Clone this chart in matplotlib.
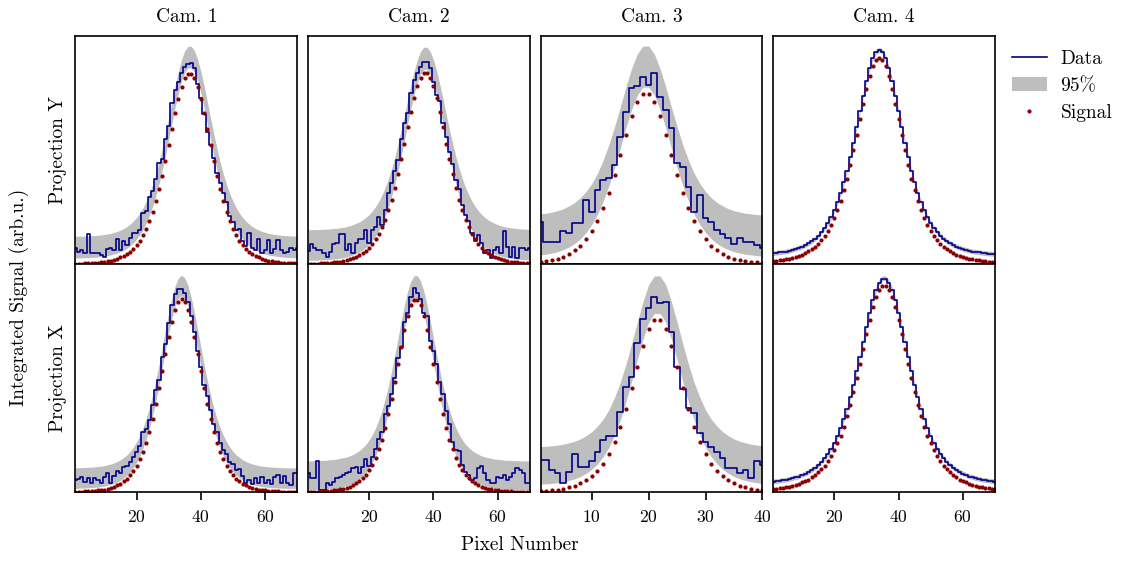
import matplotlib
matplotlib.use("Agg")
import matplotlib.pyplot as plt

# pixel index along each camera line
pixels_70 = list(range(1, 71))
pixels_40 = list(range(1, 41))

# ---- Cam. 1, projection Y ----
cam1_y_data = [6.9, 5.4, 6.1, 5.0, 13.2, 5.0, 5.0, 5.0, 4.0, 3.2,
               6.5, 6.9, 6.1, 10.8, 6.1, 10.2, 8.3, 11.3, 13.5, 13.8,
               15.1, 22.4, 23.1, 29.5, 32.0, 37.5, 44.5, 46.0, 55.0, 60.5,
               70.5, 76.5, 80.0, 84.0, 86.5, 87.7, 88.0, 86.0, 79.0, 73.0,
               66.0, 58.0, 52.0, 46.5, 40.0, 35.5, 31.0, 27.0, 21.0, 18.5,
               15.0, 15.5, 10.0, 8.0, 13.5, 6.9, 6.1, 10.8, 5.0, 6.1,
               10.5, 4.7, 6.5, 10.5, 6.1, 4.7, 5.4, 6.9, 6.1, 6.9]
cam1_y_signal = [0.1, 0.2, 0.2, 0.3, 0.3, 0.4, 0.5, 0.6, 0.8, 1.0,
                 1.2, 1.5, 1.9, 2.3, 2.9, 3.6, 4.4, 5.5, 6.8, 8.4,
                 10.3, 12.7, 15.5, 18.9, 22.8, 27.5, 32.7, 38.7, 45.2, 52.2,
                 59.2, 66.2, 72.5, 77.8, 81.6, 83.5, 83.5, 81.6, 77.8, 72.5,
                 66.2, 59.2, 52.2, 45.2, 38.7, 32.7, 27.5, 22.8, 18.9, 15.5,
                 12.7, 10.3, 8.4, 6.8, 5.5, 4.4, 3.6, 2.9, 2.3, 1.9,
                 1.5, 1.2, 1.0, 0.8, 0.6, 0.5, 0.4, 0.3, 0.3, 0.2]
cam1_y_lo = [2.6, 2.7, 2.7, 2.8, 2.8, 2.9, 3.0, 3.1, 3.3, 3.5,
             3.7, 4.0, 4.4, 4.8, 5.4, 6.1, 6.9, 8.0, 9.3, 10.9,
             12.8, 15.2, 18.0, 21.4, 25.3, 30.0, 35.2, 41.2, 47.7, 54.7,
             61.7, 68.7, 75.0, 80.3, 84.1, 86.0, 86.0, 84.1, 80.3, 75.0,
             68.7, 61.7, 54.7, 47.7, 41.2, 35.2, 30.0, 25.3, 21.4, 18.0,
             15.2, 12.8, 10.9, 9.3, 8.0, 6.9, 6.1, 5.4, 4.8, 4.4,
             4.0, 3.7, 3.5, 3.3, 3.1, 3.0, 2.9, 2.8, 2.8, 2.7]
cam1_y_hi = [12.1, 12.2, 12.2, 12.3, 12.3, 12.4, 12.5, 12.6, 12.8, 13.0,
             13.2, 13.5, 13.9, 14.3, 14.9, 15.6, 16.4, 17.5, 18.8, 20.4,
             22.3, 24.7, 27.5, 30.9, 34.8, 39.5, 44.7, 50.7, 57.2, 64.2,
             71.2, 78.2, 84.5, 89.8, 93.6, 95.5, 95.5, 93.6, 89.8, 84.5,
             78.2, 71.2, 64.2, 57.2, 50.7, 44.7, 39.5, 34.8, 30.9, 27.5,
             24.7, 22.3, 20.4, 18.8, 17.5, 16.4, 15.6, 14.9, 14.3, 13.9,
             13.5, 13.2, 13.0, 12.8, 12.6, 12.5, 12.4, 12.3, 12.3, 12.2]

# ---- Cam. 2, projection Y ----
cam2_y_data = [5.9, 8.6, 6.9, 6.1, 6.1, 5.0, 3.2, 5.4, 8.6, 9.4,
               13.2, 13.2, 6.1, 8.6, 4.7, 9.4, 11.0, 11.0, 14.9, 9.4,
               14.9, 16.4, 20.8, 17.0, 23.7, 31.0, 35.7, 41.0, 45.6, 55.0,
               62.0, 66.1, 75.0, 80.7, 84.0, 86.6, 88.4, 88.4, 86.0, 80.0,
               74.0, 71.5, 62.0, 55.5, 49.0, 44.0, 37.0, 33.0, 26.0, 21.5,
               19.0, 13.5, 10.0, 12.7, 9.4, 4.7, 6.1, 2.5, 6.1, 7.6,
               4.7, 14.5, 7.6, 3.2, 7.6, 2.5, 6.9, 6.9, 6.1, 6.9]
cam2_y_signal = [0.1, 0.2, 0.2, 0.2, 0.3, 0.4, 0.4, 0.5, 0.7, 0.8,
                 1.0, 1.3, 1.6, 2.0, 2.5, 3.1, 3.8, 4.7, 5.8, 7.1,
                 8.8, 10.8, 13.2, 16.1, 19.5, 23.5, 28.2, 33.5, 39.5, 46.0,
                 52.8, 59.9, 66.7, 72.9, 78.1, 81.8, 83.8, 83.8, 81.8, 78.1,
                 72.9, 66.7, 59.9, 52.8, 46.0, 39.5, 33.5, 28.2, 23.5, 19.5,
                 16.1, 13.2, 10.8, 8.8, 7.1, 5.8, 4.7, 3.8, 3.1, 2.5,
                 2.0, 1.6, 1.3, 1.0, 0.8, 0.7, 0.5, 0.4, 0.4, 0.3]
cam2_y_lo = [1.6, 1.7, 1.7, 1.7, 1.8, 1.9, 1.9, 2.0, 2.2, 2.3,
             2.5, 2.8, 3.1, 3.5, 4.0, 4.6, 5.3, 6.2, 7.3, 8.6,
             10.3, 12.3, 14.7, 17.6, 21.0, 25.0, 29.7, 35.0, 41.0, 47.5,
             54.3, 61.4, 68.2, 74.4, 79.6, 83.3, 85.3, 85.3, 83.3, 79.6,
             74.4, 68.2, 61.4, 54.3, 47.5, 41.0, 35.0, 29.7, 25.0, 21.0,
             17.6, 14.7, 12.3, 10.3, 8.6, 7.3, 6.2, 5.3, 4.6, 4.0,
             3.5, 3.1, 2.8, 2.5, 2.3, 2.2, 2.0, 1.9, 1.9, 1.8]
cam2_y_hi = [15.0, 15.1, 15.1, 15.1, 15.2, 15.3, 15.3, 15.4, 15.6, 15.7,
             15.9, 16.1, 16.4, 16.8, 17.3, 17.9, 18.5, 19.4, 20.5, 21.7,
             23.3, 25.2, 27.5, 30.3, 33.6, 37.4, 41.9, 47.0, 52.7, 58.9,
             65.4, 72.2, 78.7, 84.7, 89.6, 93.2, 95.1, 95.1, 93.2, 89.6,
             84.7, 78.7, 72.2, 65.4, 58.9, 52.7, 47.0, 41.9, 37.4, 33.6,
             30.3, 27.5, 25.2, 23.3, 21.7, 20.5, 19.4, 18.5, 17.9, 17.3,
             16.8, 16.4, 16.1, 15.9, 15.7, 15.6, 15.4, 15.3, 15.3, 15.2]

# ---- Cam. 3, projection Y ----
cam3_y_data = [18.6, 9.6, 9.6, 9.6, 14.6, 13.7, 18.2, 18.2, 28.1, 22.9,
               32.5, 36.8, 37.6, 43.4, 55.9, 66.8, 77.0, 78.1, 82.2, 78.5,
               83.6, 73.4, 67.5, 59.5, 44.2, 42.7, 34.0, 23.0, 30.3, 20.0,
               18.6, 14.9, 13.2, 11.3, 9.0, 11.6, 9.5, 9.8, 8.3, 6.9]
cam3_y_signal = [1.0, 1.3, 1.8, 2.4, 3.3, 4.5, 6.0, 8.1, 10.8, 14.3,
                 18.8, 24.5, 31.3, 39.2, 47.8, 56.7, 64.8, 71.1, 74.6, 74.6,
                 71.1, 64.8, 56.7, 47.8, 39.2, 31.3, 24.5, 18.8, 14.3, 10.8,
                 8.1, 6.0, 4.5, 3.3, 2.4, 1.8, 1.3, 1.0, 0.7, 0.5]
cam3_y_lo = [4.0, 4.3, 4.8, 5.4, 6.3, 7.5, 9.0, 11.1, 13.8, 17.3,
             21.8, 27.5, 34.3, 42.2, 50.8, 59.7, 67.8, 74.1, 77.6, 77.6,
             74.1, 67.8, 59.7, 50.8, 42.2, 34.3, 27.5, 21.8, 17.3, 13.8,
             11.1, 9.0, 7.5, 6.3, 5.4, 4.8, 4.3, 4.0, 3.7, 3.5]
cam3_y_hi = [22.0, 22.3, 22.8, 23.4, 24.3, 25.5, 27.0, 29.1, 31.8, 35.3,
             39.8, 45.5, 52.3, 60.2, 68.8, 77.7, 85.8, 92.1, 95.6, 95.6,
             92.1, 85.8, 77.7, 68.8, 60.2, 52.3, 45.5, 39.8, 35.3, 31.8,
             29.1, 27.0, 25.5, 24.3, 23.4, 22.8, 22.3, 22.0, 21.7, 21.5]

# ---- Cam. 4, projection Y ----
cam4_y_data = [4.7, 4.9, 5.1, 5.3, 5.5, 5.8, 6.2, 6.6, 7.1, 7.6,
               8.3, 9.1, 10.0, 11.1, 12.4, 14.0, 15.8, 18.0, 20.5, 23.5,
               27.1, 31.1, 35.8, 41.0, 46.9, 53.3, 60.1, 67.0, 73.9, 80.4,
               85.9, 90.3, 93.1, 94.0, 93.1, 90.3, 85.9, 80.4, 73.9, 67.0,
               60.1, 53.3, 46.9, 41.0, 35.8, 31.1, 27.1, 23.5, 20.5, 18.0,
               15.8, 14.0, 12.4, 11.1, 10.0, 9.1, 8.3, 7.6, 7.1, 6.6,
               6.2, 5.8, 5.5, 5.3, 5.1, 4.9, 4.7, 4.6, 4.5, 4.3]
cam4_y_signal = [1.2, 1.4, 1.6, 1.8, 2.0, 2.3, 2.7, 3.1, 3.6, 4.1,
                 4.8, 5.6, 6.5, 7.6, 8.9, 10.5, 12.3, 14.5, 17.0, 20.0,
                 23.6, 27.6, 32.3, 37.5, 43.4, 49.8, 56.6, 63.5, 70.4, 76.9,
                 82.4, 86.8, 89.6, 90.5, 89.6, 86.8, 82.4, 76.9, 70.4, 63.5,
                 56.6, 49.8, 43.4, 37.5, 32.3, 27.6, 23.6, 20.0, 17.0, 14.5,
                 12.3, 10.5, 8.9, 7.6, 6.5, 5.6, 4.8, 4.1, 3.6, 3.1,
                 2.7, 2.3, 2.0, 1.8, 1.6, 1.4, 1.2, 1.1, 1.0, 0.8]
cam4_y_lo = [3.7, 3.9, 4.1, 4.3, 4.5, 4.8, 5.2, 5.6, 6.1, 6.6,
             7.3, 8.1, 9.0, 10.1, 11.4, 13.0, 14.8, 17.0, 19.5, 22.5,
             26.1, 30.1, 34.8, 40.0, 45.9, 52.3, 59.1, 66.0, 72.9, 79.4,
             84.9, 89.3, 92.1, 93.0, 92.1, 89.3, 84.9, 79.4, 72.9, 66.0,
             59.1, 52.3, 45.9, 40.0, 34.8, 30.1, 26.1, 22.5, 19.5, 17.0,
             14.8, 13.0, 11.4, 10.1, 9.0, 8.1, 7.3, 6.6, 6.1, 5.6,
             5.2, 4.8, 4.5, 4.3, 4.1, 3.9, 3.7, 3.6, 3.5, 3.3]
cam4_y_hi = [5.8, 6.0, 6.2, 6.4, 6.6, 6.9, 7.3, 7.7, 8.2, 8.7,
             9.4, 10.2, 11.1, 12.2, 13.5, 15.1, 16.9, 19.1, 21.6, 24.6,
             28.2, 32.2, 36.9, 42.1, 48.0, 54.4, 61.2, 68.1, 75.0, 81.5,
             87.0, 91.4, 94.2, 95.1, 94.2, 91.4, 87.0, 81.5, 75.0, 68.1,
             61.2, 54.4, 48.0, 42.1, 36.9, 32.2, 28.2, 24.6, 21.6, 19.1,
             16.9, 15.1, 13.5, 12.2, 11.1, 10.2, 9.4, 8.7, 8.2, 7.7,
             7.3, 6.9, 6.6, 6.4, 6.2, 6.0, 5.8, 5.7, 5.6, 5.4]

# ---- Cam. 1, projection X ----
cam1_x_data = [5.3, 5.6, 6.7, 4.6, 6.0, 4.1, 6.0, 5.3, 4.1, 6.7,
               8.2, 4.1, 7.0, 9.4, 8.2, 11.1, 11.4, 13.0, 15.5, 17.5,
               20.0, 26.5, 27.5, 31.5, 38.0, 44.7, 49.0, 59.4, 65.0, 74.0,
               82.0, 87.0, 88.9, 88.9, 87.1, 83.5, 77.0, 70.0, 62.0, 55.0,
               47.0, 42.0, 36.0, 30.0, 26.5, 21.5, 18.5, 16.5, 13.0, 12.5,
               9.5, 10.0, 7.0, 3.8, 5.3, 3.5, 6.0, 4.1, 6.7, 4.1,
               5.3, 3.5, 6.7, 7.5, 4.1, 7.0, 3.8, 3.1, 8.2, 8.5]
cam1_x_signal = [0.1, 0.2, 0.2, 0.3, 0.4, 0.4, 0.6, 0.7, 0.9, 1.1,
                 1.5, 1.8, 2.3, 2.9, 3.7, 4.7, 5.8, 7.3, 9.2, 11.5,
                 14.3, 17.7, 21.7, 26.5, 32.1, 38.5, 45.5, 53.1, 60.7, 68.2,
                 74.8, 80.0, 83.4, 84.6, 83.4, 80.0, 74.8, 68.2, 60.7, 53.1,
                 45.5, 38.5, 32.1, 26.5, 21.7, 17.7, 14.3, 11.5, 9.2, 7.3,
                 5.8, 4.7, 3.7, 2.9, 2.3, 1.8, 1.5, 1.1, 0.9, 0.7,
                 0.6, 0.4, 0.4, 0.3, 0.2, 0.2, 0.1, 0.1, 0.1, 0.1]
cam1_x_lo = [1.6, 1.7, 1.7, 1.8, 1.9, 1.9, 2.1, 2.2, 2.4, 2.6,
             3.0, 3.3, 3.8, 4.4, 5.2, 6.2, 7.3, 8.8, 10.7, 13.0,
             15.8, 19.2, 23.2, 28.0, 33.6, 40.0, 47.0, 54.6, 62.2, 69.7,
             76.3, 81.5, 84.9, 86.1, 84.9, 81.5, 76.3, 69.7, 62.2, 54.6,
             47.0, 40.0, 33.6, 28.0, 23.2, 19.2, 15.8, 13.0, 10.7, 8.8,
             7.3, 6.2, 5.2, 4.4, 3.8, 3.3, 3.0, 2.6, 2.4, 2.2,
             2.1, 1.9, 1.9, 1.8, 1.7, 1.7, 1.6, 1.6, 1.6, 1.6]
cam1_x_hi = [10.6, 10.7, 10.7, 10.8, 10.9, 10.9, 11.1, 11.2, 11.4, 11.6,
             12.0, 12.3, 12.8, 13.4, 14.2, 15.2, 16.3, 17.8, 19.7, 22.0,
             24.8, 28.2, 32.2, 37.0, 42.6, 49.0, 56.0, 63.6, 71.2, 78.7,
             85.3, 90.5, 93.9, 95.1, 93.9, 90.5, 85.3, 78.7, 71.2, 63.6,
             56.0, 49.0, 42.6, 37.0, 32.2, 28.2, 24.8, 22.0, 19.7, 17.8,
             16.3, 15.2, 14.2, 13.4, 12.8, 12.3, 12.0, 11.6, 11.4, 11.2,
             11.1, 10.9, 10.9, 10.8, 10.7, 10.7, 10.6, 10.6, 10.6, 10.6]

# ---- Cam. 2, projection X ----
cam2_x_data = [8.2, 6.0, 6.0, 13.6, 0.9, 0.9, 4.1, 3.0, 4.6, 6.0,
               6.7, 7.5, 8.2, 9.0, 10.4, 10.8, 8.2, 11.1, 14.3, 11.4,
               15.2, 18.9, 23.3, 26.2, 34.2, 37.9, 42.9, 50.1, 58.6, 63.7,
               74.7, 78.4, 85.4, 89.4, 87.5, 84.6, 78.4, 77.2, 66.1, 62.0,
               56.1, 48.1, 43.0, 35.7, 29.8, 22.0, 18.5, 18.1, 11.8, 8.9,
               7.5, 5.3, 6.0, 10.4, 11.4, 8.2, 5.3, 4.1, 4.1, 6.7,
               6.0, 7.5, 5.3, 6.7, 8.2, 10.4, 9.7, 8.2, 4.1, 4.1]
cam2_x_signal = [0.1, 0.1, 0.2, 0.2, 0.3, 0.3, 0.4, 0.6, 0.7, 0.9,
                 1.2, 1.5, 1.9, 2.4, 3.0, 3.8, 4.8, 6.1, 7.6, 9.6,
                 12.0, 15.0, 18.7, 23.0, 28.2, 34.1, 40.9, 48.3, 56.0, 63.8,
                 71.1, 77.3, 81.9, 84.3, 84.3, 81.9, 77.3, 71.1, 63.8, 56.0,
                 48.3, 40.9, 34.1, 28.2, 23.0, 18.7, 15.0, 12.0, 9.6, 7.6,
                 6.1, 4.8, 3.8, 3.0, 2.4, 1.9, 1.5, 1.2, 0.9, 0.7,
                 0.6, 0.4, 0.3, 0.3, 0.2, 0.2, 0.1, 0.1, 0.1, 0.1]
cam2_x_lo = [1.0, 1.0, 1.1, 1.1, 1.2, 1.2, 1.3, 1.5, 1.6, 1.8,
             2.1, 2.4, 2.8, 3.3, 3.9, 4.7, 5.7, 7.0, 8.5, 10.5,
             12.9, 15.9, 19.6, 23.9, 29.1, 35.0, 41.8, 49.2, 56.9, 64.7,
             72.0, 78.2, 82.8, 85.2, 85.2, 82.8, 78.2, 72.0, 64.7, 56.9,
             49.2, 41.8, 35.0, 29.1, 23.9, 19.6, 15.9, 12.9, 10.5, 8.5,
             7.0, 5.7, 4.7, 3.9, 3.3, 2.8, 2.4, 2.1, 1.8, 1.6,
             1.5, 1.3, 1.2, 1.2, 1.1, 1.1, 1.0, 1.0, 1.0, 1.0]
cam2_x_hi = [13.7, 13.7, 13.8, 13.8, 13.9, 13.9, 14.0, 14.2, 14.3, 14.5,
             14.8, 15.1, 15.4, 15.9, 16.5, 17.3, 18.2, 19.5, 20.9, 22.9,
             25.2, 28.1, 31.6, 35.8, 40.8, 46.5, 53.1, 60.2, 67.6, 75.2,
             82.2, 88.2, 92.6, 94.9, 94.9, 92.6, 88.2, 82.2, 75.2, 67.6,
             60.2, 53.1, 46.5, 40.8, 35.8, 31.6, 28.1, 25.2, 22.9, 20.9,
             19.5, 18.2, 17.3, 16.5, 15.9, 15.4, 15.1, 14.8, 14.5, 14.3,
             14.2, 14.0, 13.9, 13.9, 13.8, 13.8, 13.7, 13.7, 13.7, 13.7]

# ---- Cam. 3, projection X ----
cam3_x_data = [14.0, 14.0, 9.6, 8.2, 4.1, 8.9, 16.8, 10.9, 10.9, 13.6,
               17.7, 22.8, 24.6, 24.7, 35.2, 46.2, 50.6, 65.5, 76.1, 80.8,
               85.6, 82.7, 83.2, 70.0, 55.0, 45.0, 36.8, 34.5, 25.8, 22.1,
               19.9, 17.7, 14.8, 10.4, 10.4, 8.2, 9.6, 6.0, 13.6, 11.9]
cam3_x_signal = [0.5, 0.6, 0.8, 1.1, 1.5, 2.1, 2.8, 3.8, 5.2, 7.0,
                 9.4, 12.5, 16.5, 22.0, 28.5, 36.5, 45.5, 55.0, 64.0, 71.5,
                 75.3, 75.3, 71.5, 64.0, 55.0, 45.5, 36.5, 28.5, 22.0, 16.5,
                 12.5, 9.4, 7.0, 5.2, 3.8, 2.8, 2.1, 1.5, 1.1, 0.8]
cam3_x_lo = [3.5, 3.6, 3.8, 4.1, 4.5, 5.1, 5.8, 6.8, 8.2, 10.0,
             12.4, 15.5, 19.5, 25.0, 31.5, 39.5, 48.5, 58.0, 67.0, 74.5,
             78.3, 78.3, 74.5, 67.0, 58.0, 48.5, 39.5, 31.5, 25.0, 19.5,
             15.5, 12.4, 10.0, 8.2, 6.8, 5.8, 5.1, 4.5, 4.1, 3.8]
cam3_x_hi = [20.0, 20.1, 20.3, 20.6, 21.0, 21.6, 22.3, 23.3, 24.7, 26.5,
             28.9, 32.0, 36.0, 41.5, 48.0, 56.0, 65.0, 74.5, 83.5, 91.0,
             94.8, 94.8, 91.0, 83.5, 74.5, 65.0, 56.0, 48.0, 41.5, 36.0,
             32.0, 28.9, 26.5, 24.7, 23.3, 22.3, 21.6, 21.0, 20.6, 20.3]

# ---- Cam. 4, projection X ----
cam4_x_data = [4.5, 4.7, 4.9, 5.1, 5.3, 5.6, 6.0, 6.4, 6.8, 7.4,
               8.0, 8.7, 9.6, 10.6, 11.8, 13.1, 14.8, 16.7, 18.9, 21.5,
               24.5, 27.9, 31.9, 36.4, 41.5, 47.0, 53.1, 59.4, 66.0, 72.5,
               78.7, 84.2, 88.7, 91.9, 93.6, 93.6, 91.9, 88.7, 84.2, 78.7,
               72.5, 66.0, 59.4, 53.1, 47.0, 41.5, 36.4, 31.9, 27.9, 24.5,
               21.5, 18.9, 16.7, 14.8, 13.1, 11.8, 10.6, 9.6, 8.7, 8.0,
               7.4, 6.8, 6.4, 6.0, 5.6, 5.3, 5.1, 4.9, 4.7, 4.5]
cam4_x_signal = [1.3, 1.5, 1.7, 1.9, 2.1, 2.4, 2.8, 3.2, 3.6, 4.2,
                 4.8, 5.5, 6.4, 7.4, 8.6, 9.9, 11.6, 13.5, 15.7, 18.3,
                 21.3, 24.7, 28.7, 33.2, 38.3, 43.8, 49.9, 56.2, 62.8, 69.3,
                 75.5, 81.0, 85.5, 88.7, 90.4, 90.4, 88.7, 85.5, 81.0, 75.5,
                 69.3, 62.8, 56.2, 49.9, 43.8, 38.3, 33.2, 28.7, 24.7, 21.3,
                 18.3, 15.7, 13.5, 11.6, 9.9, 8.6, 7.4, 6.4, 5.5, 4.8,
                 4.2, 3.6, 3.2, 2.8, 2.4, 2.1, 1.9, 1.7, 1.5, 1.3]
cam4_x_lo = [3.6, 3.8, 4.0, 4.2, 4.4, 4.7, 5.1, 5.5, 5.9, 6.5,
             7.1, 7.8, 8.7, 9.7, 10.9, 12.2, 13.9, 15.8, 18.0, 20.6,
             23.6, 27.0, 31.0, 35.5, 40.6, 46.1, 52.2, 58.5, 65.1, 71.6,
             77.8, 83.3, 87.8, 91.0, 92.7, 92.7, 91.0, 87.8, 83.3, 77.8,
             71.6, 65.1, 58.5, 52.2, 46.1, 40.6, 35.5, 31.0, 27.0, 23.6,
             20.6, 18.0, 15.8, 13.9, 12.2, 10.9, 9.7, 8.7, 7.8, 7.1,
             6.5, 5.9, 5.5, 5.1, 4.7, 4.4, 4.2, 4.0, 3.8, 3.6]
cam4_x_hi = [5.7, 5.9, 6.1, 6.3, 6.5, 6.8, 7.2, 7.6, 8.0, 8.6,
             9.2, 9.9, 10.8, 11.8, 13.0, 14.3, 16.0, 17.9, 20.1, 22.7,
             25.7, 29.1, 33.1, 37.6, 42.7, 48.2, 54.3, 60.6, 67.2, 73.7,
             79.9, 85.4, 89.9, 93.1, 94.8, 94.8, 93.1, 89.9, 85.4, 79.9,
             73.7, 67.2, 60.6, 54.3, 48.2, 42.7, 37.6, 33.1, 29.1, 25.7,
             22.7, 20.1, 17.9, 16.0, 14.3, 13.0, 11.8, 10.8, 9.9, 9.2,
             8.6, 8.0, 7.6, 7.2, 6.8, 6.5, 6.3, 6.1, 5.9, 5.7]

cam_titles = ["Cam. 1", "Cam. 2", "Cam. 3", "Cam. 4"]
row_labels = ["Projection Y", "Projection X"]
tick_sets = [[20, 40, 60], [20, 40, 60], [10, 20, 30, 40], [20, 40, 60]]

# (row, column, pixels, data, signal, band low, band high)
panels = [
    (0, 0, pixels_70, cam1_y_data, cam1_y_signal, cam1_y_lo, cam1_y_hi),
    (0, 1, pixels_70, cam2_y_data, cam2_y_signal, cam2_y_lo, cam2_y_hi),
    (0, 2, pixels_40, cam3_y_data, cam3_y_signal, cam3_y_lo, cam3_y_hi),
    (0, 3, pixels_70, cam4_y_data, cam4_y_signal, cam4_y_lo, cam4_y_hi),
    (1, 0, pixels_70, cam1_x_data, cam1_x_signal, cam1_x_lo, cam1_x_hi),
    (1, 1, pixels_70, cam2_x_data, cam2_x_signal, cam2_x_lo, cam2_x_hi),
    (1, 2, pixels_40, cam3_x_data, cam3_x_signal, cam3_x_lo, cam3_x_hi),
    (1, 3, pixels_70, cam4_x_data, cam4_x_signal, cam4_x_lo, cam4_x_hi),
]

plt.rcParams["font.family"] = "serif"
plt.rcParams["font.serif"] = ["cmr10"]
plt.rcParams["mathtext.fontset"] = "cm"
plt.rcParams["axes.formatter.use_mathtext"] = True
plt.rcParams["font.size"] = 14

fig, axes = plt.subplots(2, 4, figsize=(11.21, 5.63), dpi=100, sharex="col")
fig.subplots_adjust(left=0.0673, right=0.8876, top=0.936, bottom=0.126, wspace=0.048, hspace=0)

for row, col, x, data, signal, lo, hi in panels:
    ax = axes[row, col]
    ax.fill_between(x, lo, hi, color="#bebebe", lw=0, label="95%")
    ax.plot(x, data, drawstyle="steps-mid", color="#00008b", lw=1.2, label="Data")
    ax.plot(x, signal, "o", color="#8b0000", ms=3, mew=0, label="Signal")
    ax.set_xlim(x[0], x[-1])
    ax.set_ylim(0, 100)
    ax.set_yticks([])
    for sp in ax.spines.values():
        sp.set_linewidth(1.2)
    if row == 0:
        ax.set_title(cam_titles[col], fontsize=14, pad=10)
        ax.tick_params(axis="x", length=0)
    else:
        ax.set_xticks(tick_sets[col])
        ax.tick_params(axis="x", direction="out", length=6, width=1.2, pad=6, labelsize=12.6)
    if col == 0:
        ax.set_ylabel(row_labels[row], fontsize=14, labelpad=6)

fig.text(19 / 1121, 1 - 297 / 563, "Integrated Signal (arb.u.)", rotation=90,
         ha="center", va="center", fontsize=14)
fig.text(520 / 1121, 1 - 545 / 563, "Pixel Number", ha="center", va="center", fontsize=14)

h, l = axes[0, 3].get_legend_handles_labels()
fig.legend([h[1], h[0], h[2]], ["Data", "95%", "Signal"], loc="upper left",
           bbox_to_anchor=(1004 / 1121, 1 - 42 / 563), borderaxespad=0,
           frameon=False, fontsize=14, handlelength=1.8, handletextpad=0.7, labelspacing=0.48)

fig.savefig("out.png", dpi=100)
